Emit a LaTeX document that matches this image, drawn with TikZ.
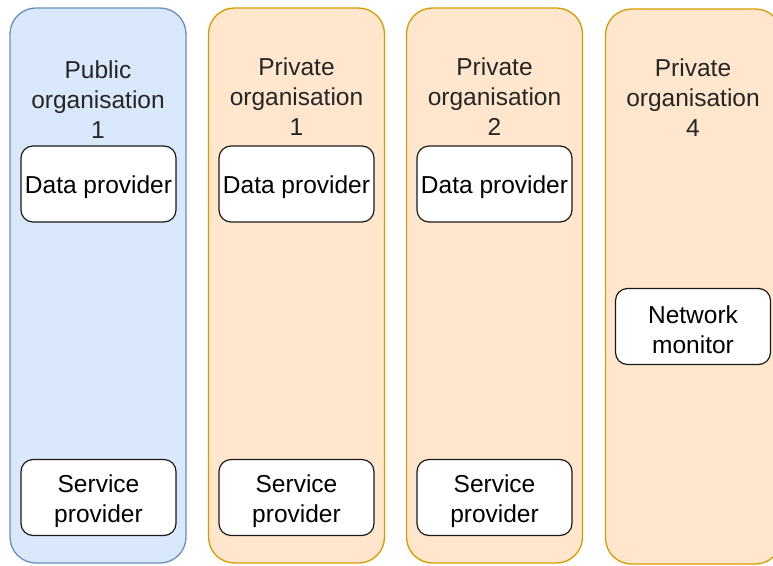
\documentclass[tikz,border=0pt]{standalone}
\usepackage{fontspec}
\setmainfont{Liberation Sans}
\usepackage{tikz}

\definecolor{pubfill}{HTML}{DAE8FC}
\definecolor{publine}{HTML}{6C8EBF}
\definecolor{privfill}{HTML}{FFE6CC}
\definecolor{privline}{HTML}{D79B00}
\definecolor{boxline}{HTML}{1A1A1A}

\tikzset{
    lane/.style={draw, line width=1.3pt, rounded corners=26pt,
        minimum width=176pt, minimum height=555pt, inner sep=0pt},
    publane/.style={lane, fill=pubfill, draw=publine},
    privlane/.style={lane, fill=privfill, draw=privline},
    % taller text box so the words sit a little below the box centre
    role/.style={draw=boxline, fill=white, line width=1.2pt, rounded corners=12pt,
        minimum width=155pt, minimum height=76pt, inner sep=0pt, align=center,
        font=\fontsize{24.5}{30}\selectfont, text height=25pt},
    role2/.style={role, text height=55pt},
    title/.style={align=center, text=black!85, font=\fontsize{24.5}{30}\selectfont},
}

\begin{document}
\begin{tikzpicture}[x=1pt, y=-1pt]
    \useasboundingbox (0, 0) rectangle (773, 565);
    \clip (0, 0) rectangle (773, 565);

    % organisations
    \node[publane]  (pub1)  at ( 98.0, 285.5) {};
    \node[privlane] (priv1) at (296.5, 285.5) {};
    \node[privlane] (priv2) at (494.5, 285.5) {};
    \node[privlane] (priv4) at (693.5, 286.5) {};

    \node[title] (pub1t)  at ( 98.0, 100) {Public\\organisation\\1};
    \node[title] (priv1t) at (296.5,  97) {Private\\organisation\\1};
    \node[title] (priv2t) at (494.5,  97) {Private\\organisation\\2};
    \node[title] (priv4t) at (693.0,  98) {Private\\organisation\\4};

    % roles inside each organisation
    \node[role] (pub1d)  at ( 98.5, 184) {Data provider};
    \node[role] (priv1d) at (296.5, 184) {Data provider};
    \node[role] (priv2d) at (494.5, 184) {Data provider};

    \node[role2] (pub1s)  at ( 98.5, 497.5) {Service\\provider};
    \node[role2] (priv1s) at (296.5, 497.5) {Service\\provider};
    \node[role2] (priv2s) at (494.5, 497.5) {Service\\provider};

    \node[role2] (priv4n) at (693.0, 326.5) {Network\\monitor};
\end{tikzpicture}
\end{document}
